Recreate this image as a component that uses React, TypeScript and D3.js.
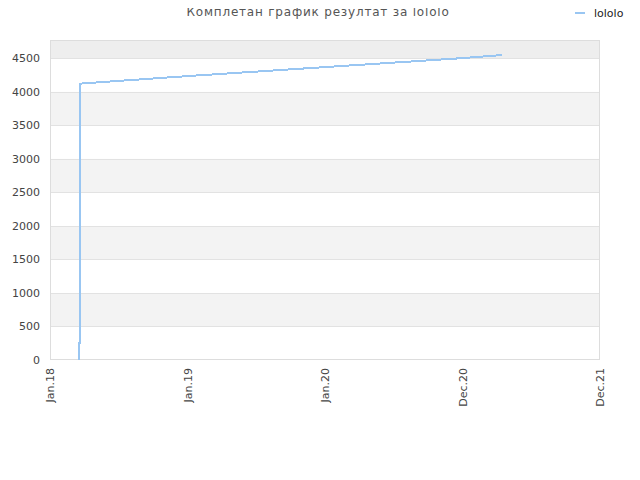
import React from 'react';
import * as d3 from 'd3';

const title = 'Комплетан график резултат за lololo';
const seriesName = 'lololo';

const dates = ['2018-03-19', '2018-03-19', '2018-03-22', '2018-03-22', '2019-01-01', '2020-01-01', '2020-12-31', '2021-04-14'];
const values = [0, 250, 250, 4120, 4232, 4366, 4500, 4545];

const yTicks = [0, 500, 1000, 1500, 2000, 2500, 3000, 3500, 4000, 4500];
const xTickDates = ['2018-01-01', '2019-01-01', '2020-01-01', '2020-12-31', '2021-12-31'];
const xTickLabels = ['Jan.18', 'Jan.19', 'Jan.20', 'Dec.20', 'Dec.21'];

const W = 640;
const H = 480;
const margin = { top: 40, right: 40, bottom: 120, left: 50 };
const font = '"DejaVu Sans", Verdana, sans-serif';

export default function App() {
  const innerW = W - margin.left - margin.right;
  const innerH = H - margin.top - margin.bottom;
  const parse = d3.utcParse('%Y-%m-%d');

  const x = d3.scaleUtc()
    .domain([parse('2018-01-01')!, parse('2021-12-31')!])
    .range([0, innerW]);
  const y = d3.scaleLinear().domain([0, 4770]).range([innerH, 0]);

  const points = dates.map((d, i) => ({ date: parse(d)!, value: values[i] }));
  const line = d3.line<{ date: Date; value: number }>()
    .x(d => x(d.date))
    .y(d => y(d.value));

  // band edges: each tick up to the next one (or the top)
  const bands = yTicks.map((t, i) => ({
    from: t,
    to: i + 1 < yTicks.length ? yTicks[i + 1] : y.domain()[1],
    i,
  }));

  return (
    <svg width={W} height={H} style={{ display: 'block', margin: -8 }} fontFamily={font}>
      <text x={318} y={16} textAnchor="middle" fontSize={12} fill="#555" letterSpacing={0.8}>
        {title}
      </text>

      <g transform="translate(575,13)">
        <line x1={0} x2={10} y1={0} y2={0} stroke="#99c6f2" strokeWidth={2} />
        <text x={19} y={4} fontSize={11} fill="#222">{seriesName}</text>
      </g>

      <g transform={`translate(${margin.left},${margin.top})`}>
        {bands.map(b => (
          <rect
            key={b.from}
            x={0}
            width={innerW}
            y={y(b.to)}
            height={y(b.from) - y(b.to)}
            fill={b.i === yTicks.length - 1 ? '#eeeeee' : b.i % 2 === 1 ? '#f3f3f3' : '#ffffff'}
          />
        ))}
        {yTicks.slice(1).map(t => (
          <line key={t} x1={0} x2={innerW} y1={Math.round(y(t)) + 0.5} y2={Math.round(y(t)) + 0.5} stroke="#e2e2e2" />
        ))}
        <rect x={0.5} y={0.5} width={innerW - 1} height={innerH - 1} fill="none" stroke="#dddddd" />

        {yTicks.map(t => (
          <text key={t} x={-10} y={y(t) + 4} textAnchor="end" fontSize={11} fill="#444">
            {t}
          </text>
        ))}

        {xTickDates.map((d, i) => {
          const px = x(parse(d)!);
          return (
            <text
              key={d}
              transform={`translate(${px + 4},${innerH + 8}) rotate(-90)`}
              textAnchor="end"
              fontSize={11}
              fill="#444"
            >
              {xTickLabels[i]}
            </text>
          );
        })}

        <path d={line(points) ?? ''} fill="none" stroke="#99c6f2" strokeWidth={2} shapeRendering="crispEdges" />
      </g>
    </svg>
  );
}
